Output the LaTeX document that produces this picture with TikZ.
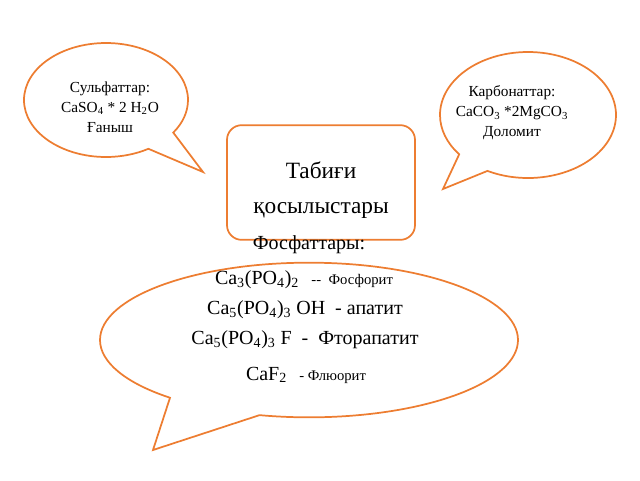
\documentclass[tikz,border=0pt]{standalone}
\usepackage{fontspec}
\setmainfont{Liberation Serif}
\usetikzlibrary{shapes.callouts}
\definecolor{bubcolor}{RGB}{237,125,49}
\tikzset{bubble/.style={ellipse callout, draw=bubcolor, line width=1.3pt, fill=white, inner sep=0pt},
  smalltxt/.style={align=center, font=\fontsize{11.5}{15}\selectfont},
  bigtxt/.style={font=\fontsize{15}{18}\selectfont}}
\newcommand{\chemsub}[1]{\textsubscript{#1}}
\newcommand{\lbl}{\fontsize{11}{12}\selectfont}

\begin{document}
\begin{tikzpicture}[x=0.75pt,y=-0.75pt]
\useasboundingbox (0,0) rectangle (640,480);

% speech bubbles
\node (sulfbub) [bubble, minimum width=123pt, minimum height=85.5pt, callout absolute pointer={(203,172)}, callout pointer arc=24] at (106,100) {};
\node (karbbub) [bubble, minimum width=132pt, minimum height=94.5pt, callout absolute pointer={(443,189)}, callout pointer arc=24] at (528,115) {};
\node (fosfbub) [bubble, minimum width=313.5pt, minimum height=116pt, callout absolute pointer={(153,450)}, callout pointer arc=28] at (309,340) {};

% title box
\node (title) [draw=bubcolor, line width=1.3pt, fill=white, rounded corners=11pt, minimum width=141pt, minimum height=86pt] at (321,182.5) {};
\node (titletxt) [align=center, font=\fontsize{17.5}{26}\selectfont] at (321,190) {Табиғи\\қосылыстары};

\node (sulf) [smalltxt] at (110,107) {Сульфаттар:\\CaSO\chemsub{4} * 2 H\chemsub{2}O\\Ғаныш};
\node (karb) [smalltxt] at (512,113) {Карбонаттар:\\CaCO\chemsub{3} *2MgCO\chemsub{3}\\Доломит};

\node (fosf) [bigtxt] at (309,245) {Фосфаттары:};
\node (fosforit) [bigtxt] at (304,280) {Ca\chemsub{3}(PO\chemsub{4})\chemsub{2} {\lbl\ \ -{}-\ \ Фосфорит}};
\node (apatit) [bigtxt] at (305,310) {Ca\chemsub{5}(PO\chemsub{4})\chemsub{3} OH\ \ - апатит};
\node (ftorapatit) [bigtxt] at (305,340) {Ca\chemsub{5}(PO\chemsub{4})\chemsub{3} F\ \ -\ \ Фторапатит};
\node (fluorit) [bigtxt] at (306,375) {CaF\chemsub{2} {\lbl\ \ -\ Флюорит}};

\end{tikzpicture}
\end{document}
